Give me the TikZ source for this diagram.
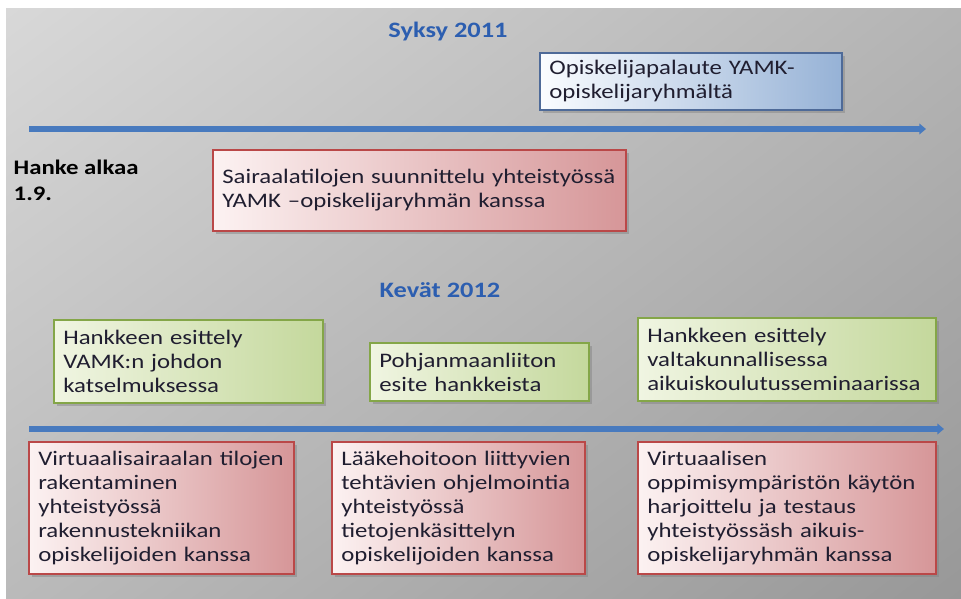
\documentclass[tikz,border=0pt]{standalone}
\usepackage{fontspec}
\setmainfont{Carlito}[FakeStretch=1.2]
\usetikzlibrary{positioning,arrows.meta,shadows,shadings}
\definecolor{bgl}{RGB}{216,216,216}
\definecolor{bgm}{RGB}{180,180,180}
\definecolor{bgd}{RGB}{152,152,152}
\definecolor{bgn}{RGB}{186,186,186}
\definecolor{lineb}{RGB}{72,122,190}
\definecolor{yearb}{RGB}{44,94,176}
\definecolor{inkc}{RGB}{32,30,48}
\definecolor{redl}{RGB}{252,242,242}
\definecolor{redr}{RGB}{214,150,152}
\definecolor{rede}{RGB}{186,72,72}
\definecolor{grnl}{RGB}{240,245,226}
\definecolor{grnr}{RGB}{196,216,156}
\definecolor{grne}{RGB}{132,166,72}
\definecolor{blul}{RGB}{250,252,255}
\definecolor{blur}{RGB}{150,178,214}
\definecolor{bedge}{RGB}{78,106,152}

\begin{document}
\begin{tikzpicture}[
  x=0.75pt, y=-0.75pt,
  font=\fontsize{15.5}{18}\selectfont,
  card/.style={inner xsep=7pt, inner ysep=4pt, align=left, text=inkc,
               line width=1.2pt, drop shadow={shadow xshift=2.5pt,
               shadow yshift=-2.5pt, opacity=0.45}},
  rbox/.style={card, draw=rede, left color=redl, right color=redr},
  gbox/.style={card, draw=grne, left color=grnl, right color=grnr},
  bbox/.style={card, draw=bedge, left color=blul, right color=blur},
  year/.style={font=\fontsize{16.5}{18}\selectfont\bfseries, text=yearb},
  lane/.style={-{Triangle[length=5pt,width=8pt]}, line width=3.8pt, color=lineb},
]
\useasboundingbox (0,0) rectangle (961,599);
\shade[upper left=bgl, upper right=bgm, lower left=bgn, lower right=bgd]
  (6,9) rectangle (961,599);

% ---------- autumn 2011 ----------
\node[year] (syksy) at (448,32) {Syksy 2011};
\node[bbox, text width=212.5pt, minimum height=42.75pt] (palaute) at (691,81.5)
  {Opiskelijapalaute YAMK-\\opiskelijaryhmältä};

\coordinate (t1s) at (29,129);
\coordinate (t1e) at (926,129);
\draw[lane] (t1s) -- (t1e);

\node[font=\fontsize{15.5}{19.5}\selectfont\bfseries, align=left, anchor=west]
  (alku) at (9,180) {Hanke alkaa\\1.9.};
\node[rbox, text width=295.75pt, minimum height=60.75pt] (suunn) at (419.5,190.5)
  {Sairaalatilojen suunnittelu yhteistyössä\\YAMK –opiskelijaryhmän kanssa};

% ---------- spring 2012 ----------
\node[year] (kevat) at (440,290) {Kevät 2012};

\node[gbox, text width=187.75pt, minimum height=62.25pt] (esit1) at (188.5,361.5)
  {Hankkeen esittely\\VAMK:n johdon\\katselmuksessa};
\node[gbox, text width=150.25pt, minimum height=43.5pt] (esite) at (479.5,372)
  {Pohjanmaanliiton\\esite hankkeista};
\node[gbox, text width=209.5pt, minimum height=62.25pt] (esit2) at (787,359.5)
  {Hankkeen esittely\\valtakunnallisessa\\aikuiskoulutusseminaarissa};

\coordinate (t2s) at (29,429);
\coordinate (t2e) at (944,429);
\draw[lane] (t2s) -- (t2e);

\node[rbox, text width=184.75pt, minimum height=99pt] (tilat) at (161.5,508)
  {Virtuaalisairaalan tilojen\\rakentaminen\\yhteistyössä\\rakennustekniikan\\opiskelijoiden kanssa};
\node[rbox, text width=175.75pt, minimum height=99pt] (laake) at (458.5,508)
  {Lääkehoitoon liittyvien\\tehtävien ohjelmointia\\yhteistyössä\\tietojenkäsittelyn\\opiskelijoiden kanssa};
\node[rbox, text width=209.5pt, minimum height=99pt] (harj) at (787,508)
  {Virtuaalisen\\oppimisympäristön käytön\\harjoittelu ja testaus\\yhteistyössäsh aikuis-\\opiskelijaryhmän kanssa};

\end{tikzpicture}
\end{document}
